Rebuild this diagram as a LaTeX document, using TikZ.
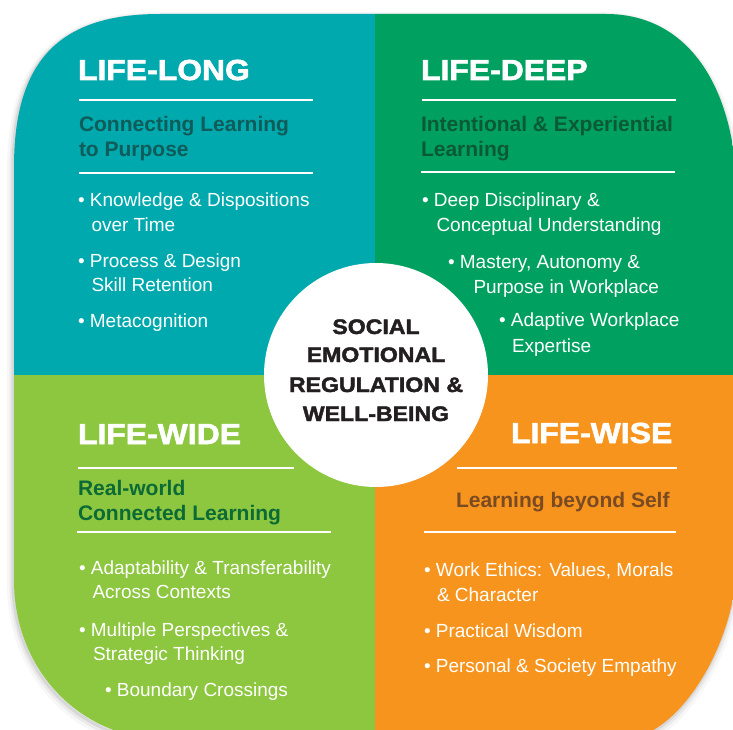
\documentclass[tikz,border=0pt]{standalone}
\usepackage{fontspec}
\setmainfont{Liberation Sans}
\newfontfamily\heavy[UprightFont={* Bold},FakeBold=2,FakeStretch=1.1]{Liberation Sans}
\definecolor{qteal}{HTML}{00A9AD}
\definecolor{qgreen}{HTML}{00A160}
\definecolor{qlime}{HTML}{8DC63F}
\definecolor{qorange}{HTML}{F7941D}
\definecolor{subteal}{HTML}{0F5C5A}
\definecolor{subgreen}{HTML}{0B5A35}
\definecolor{sublime}{HTML}{0B6A35}
\definecolor{subbrown}{HTML}{7A4A22}
\definecolor{hubtxt}{HTML}{231F20}
\def\outerpath{(14,167) .. controls (14,60) and (60,14) .. (160,14) -- (606,14) .. controls (690,14) and (737,90) .. (737,200) -- (737,560) .. controls (737,640) and (680,740) .. (620,740) -- (170,740) .. controls (80,740) and (14,670) .. (14,580) -- cycle}
\begin{document}
\begin{tikzpicture}[x=1pt,y=-1pt,
  title/.style={text=white,font=\heavy\fontsize{29}{29}\selectfont,anchor=base west,inner sep=0pt,outer sep=0pt},
  sub/.style={font=\bfseries\fontsize{21}{25}\selectfont,anchor=base west,inner sep=0pt,outer sep=0pt},
  item/.style={text=white,font=\fontsize{19}{25}\selectfont,anchor=base west,inner sep=0pt,outer sep=0pt},
  hubline/.style={text=hubtxt,font=\heavy\fontsize{21}{29}\selectfont,anchor=base,inner sep=0pt,outer sep=0pt},
  rule/.style={white,line width=1.3pt}]
\useasboundingbox (0,0) rectangle (733,730);
\fill[white] (0,0) rectangle (733,730);
% shadow
\draw[line width=12pt,black,opacity=0.03,shift={(-1,4)}] \outerpath;
\draw[line width=7pt,black,opacity=0.05,shift={(-1,3)}] \outerpath;
\draw[line width=3pt,black,opacity=0.08,shift={(-1,2)}] \outerpath;
% quadrants
\begin{scope}
\clip \outerpath;
\fill[qteal] (0,0) rectangle (375,375);
\fill[qgreen] (375,0) rectangle (745,375);
\fill[qlime] (0,375) rectangle (375,745);
\fill[qorange] (375,375) rectangle (745,745);
\end{scope}
% hub
\node[circle,fill=white,minimum size=224pt,inner sep=0pt] (hub) at (376,375) {};
\node[hubline] (h1) at (376,334) {SOCIAL};
\node[hubline] (h2) at (376,362) {EMOTIONAL};
\node[hubline] (h3) at (376,392) {REGULATION \&};
\node[hubline] (h4) at (376,421) {WELL-BEING};
% LIFE-LONG
\node[title] (t1) at (78,80) {LIFE-LONG};
\draw[rule] (79,100) -- (313,100);
\node[sub,text=subteal] (s1a) at (79,132) {Connecting Learning};
\node[sub,text=subteal] (s1b) at (79,157) {to Purpose};
\draw[rule] (79,173) -- (313,173);
\node[item] (i1a) at (78,206) {• Knowledge \& Dispositions};
\node[item] (i1b) at (91.5,231) {over Time};
\node[item] (i1c) at (78,267) {• Process \& Design};
\node[item] (i1d) at (91.5,291) {Skill Retention};
\node[item] (i1e) at (78,327) {• Metacognition};
% LIFE-DEEP
\node[title] (t2) at (421,80) {LIFE-DEEP};
\draw[rule] (422,100) -- (676,100);
\node[sub,text=subgreen] (s2a) at (421,132) {Intentional \& Experiential};
\node[sub,text=subgreen] (s2b) at (421,157) {Learning};
\draw[rule] (421,172) -- (675,172);
\node[item] (i2a) at (422,206) {• Deep Disciplinary \&};
\node[item] (i2b) at (436.5,231) {Conceptual Understanding};
\node[item] (i2c) at (448,268) {• Mastery, Autonomy \&};
\node[item] (i2d) at (473.5,293) {Purpose in Workplace};
\node[item] (i2e) at (499,326) {• Adaptive Workplace};
\node[item] (i2f) at (512,352) {Expertise};
% LIFE-WIDE
\node[title] (t3) at (78,444) {LIFE-WIDE};
\draw[rule] (78,468) -- (294,468);
\node[sub,text=sublime] (s3a) at (78,495) {Real-world};
\node[sub,text=sublime] (s3b) at (78,520) {Connected Learning};
\draw[rule] (77,532) -- (331,532);
\node[item] (i3a) at (79,574) {• Adaptability \& Transferability};
\node[item] (i3b) at (92.5,598) {Across Contexts};
\node[item] (i3c) at (79,636) {• Multiple Perspectives \&};
\node[item] (i3d) at (93,660) {Strategic Thinking};
\node[item] (i3e) at (105,696) {• Boundary Crossings};
% LIFE-WISE
\node[title] (t4) at (511,443) {LIFE-WISE};
\draw[rule] (457,468) -- (677,468);
\node[sub,text=subbrown] (s4a) at (456,507) {Learning beyond Self};
\draw[rule] (424,532) -- (676,532);
\node[item] (i4a) at (424,576) {• Work Ethics: Values, Morals};
\node[item] (i4b) at (437,601) {\& Character};
\node[item] (i4c) at (424,637) {• Practical Wisdom};
\node[item] (i4d) at (424,672) {• Personal \& Society Empathy};
\end{tikzpicture}
\end{document}
